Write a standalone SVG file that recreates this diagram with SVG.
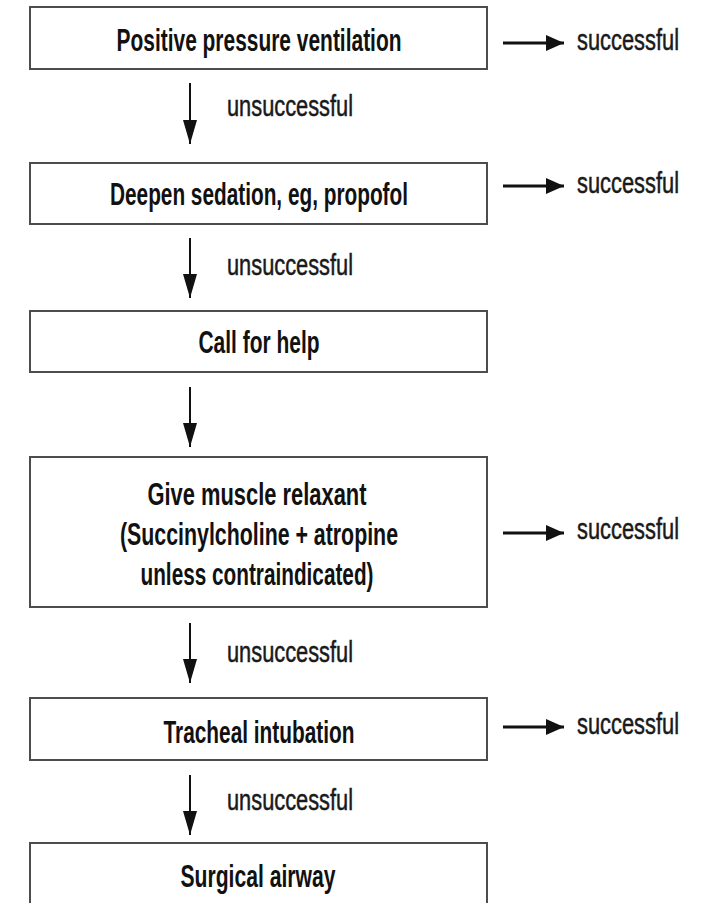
<svg xmlns="http://www.w3.org/2000/svg" width="710" height="903" viewBox="0 0 710 903">
  <style>
    .box { fill: #ffffff; stroke: #4d4d4d; stroke-width: 2; }
    .t { font-family: "Liberation Sans Narrow", "Liberation Sans", Arial, sans-serif; font-weight: bold; font-size: 31px; fill: #111; text-anchor: middle; }
    .l { font-family: "Liberation Sans Narrow", "Liberation Sans", Arial, sans-serif; font-size: 29px; fill: #1a1a1a; stroke: #1a1a1a; stroke-width: 0.5; }
    .down { stroke: #111; stroke-width: 2; fill: none; marker-end: url(#hd); }
    .right { stroke: #111; stroke-width: 3; fill: none; marker-end: url(#hr); }
  </style>
  <defs>
    <marker id="hd" markerUnits="userSpaceOnUse" markerWidth="24" markerHeight="14" refX="24" refY="7" orient="auto" viewBox="0 0 24 14">
      <polygon points="0,0 24,7 0,14" fill="#111"/>
    </marker>
    <marker id="hr" markerUnits="userSpaceOnUse" markerWidth="18" markerHeight="16" refX="18" refY="8" orient="auto" viewBox="0 0 18 16">
      <polygon points="0,0 18,8 0,16" fill="#111"/>
    </marker>
  </defs>
  <rect width="710" height="903" fill="#ffffff"/>

  <g id="n1">
    <rect class="box" x="30" y="7" width="457" height="62"/>
    <text class="t" x="259" y="51" textLength="285" lengthAdjust="spacingAndGlyphs">Positive pressure ventilation</text>
  </g>
  <g id="n2">
    <rect class="box" x="30" y="163" width="457" height="61"/>
    <text class="t" x="259" y="205" textLength="298" lengthAdjust="spacingAndGlyphs">Deepen sedation, eg, propofol</text>
  </g>
  <g id="n3">
    <rect class="box" x="30" y="311" width="457" height="61"/>
    <text class="t" x="259" y="353" textLength="121" lengthAdjust="spacingAndGlyphs">Call for help</text>
  </g>
  <g id="n4">
    <rect class="box" x="30" y="457" width="457" height="150"/>
    <text class="t" x="257" y="505" textLength="219" lengthAdjust="spacingAndGlyphs">Give muscle relaxant</text>
    <text class="t" x="259" y="545" textLength="278" lengthAdjust="spacingAndGlyphs">(Succinylcholine + atropine</text>
    <text class="t" x="257" y="585" textLength="233" lengthAdjust="spacingAndGlyphs">unless contraindicated)</text>
  </g>
  <g id="n5">
    <rect class="box" x="30" y="698" width="457" height="62"/>
    <text class="t" x="259" y="743" textLength="191" lengthAdjust="spacingAndGlyphs">Tracheal intubation</text>
  </g>
  <g id="n6">
    <rect class="box" x="30" y="843" width="457" height="61"/>
    <text class="t" x="258" y="887" textLength="155" lengthAdjust="spacingAndGlyphs">Surgical airway</text>
  </g>

  <g id="connectors">
    <line class="down" x1="190" y1="83" x2="190" y2="144"/>
    <line class="down" x1="190" y1="238" x2="190" y2="298"/>
    <line class="down" x1="190" y1="387" x2="190" y2="447"/>
    <line class="down" x1="190" y1="623" x2="190" y2="683"/>
    <line class="down" x1="190" y1="775" x2="190" y2="835"/>

    <line class="right" x1="503" y1="43" x2="564" y2="43"/>
    <line class="right" x1="503" y1="186" x2="564" y2="186"/>
    <line class="right" x1="503" y1="533" x2="564" y2="533"/>
    <line class="right" x1="503" y1="727" x2="564" y2="727"/>

    <text class="l" x="227" y="116" textLength="126" lengthAdjust="spacingAndGlyphs">unsuccessful</text>
    <text class="l" x="227" y="275" textLength="126" lengthAdjust="spacingAndGlyphs">unsuccessful</text>
    <text class="l" x="227" y="662" textLength="126" lengthAdjust="spacingAndGlyphs">unsuccessful</text>
    <text class="l" x="227" y="810" textLength="126" lengthAdjust="spacingAndGlyphs">unsuccessful</text>

    <text class="l" x="577" y="50" textLength="102" lengthAdjust="spacingAndGlyphs">successful</text>
    <text class="l" x="577" y="193" textLength="102" lengthAdjust="spacingAndGlyphs">successful</text>
    <text class="l" x="577" y="539" textLength="102" lengthAdjust="spacingAndGlyphs">successful</text>
    <text class="l" x="577" y="734" textLength="102" lengthAdjust="spacingAndGlyphs">successful</text>
  </g>
</svg>
